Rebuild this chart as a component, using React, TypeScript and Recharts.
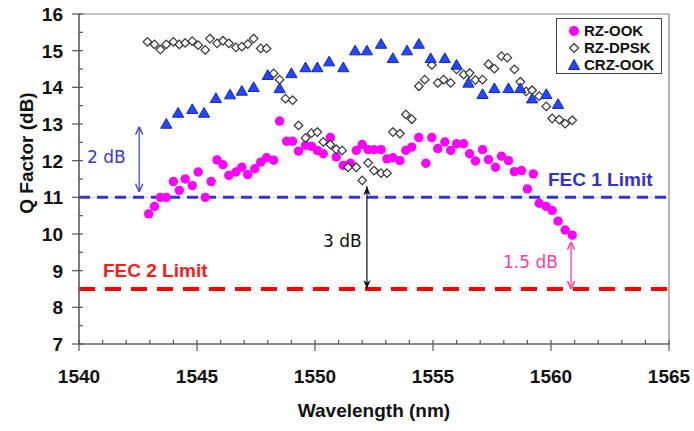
import { ScatterChart, Scatter, XAxis, YAxis, ReferenceLine, ReferenceArea, Legend } from 'recharts'

// [wavelength nm, Q factor dB]
const rzOok: [number, number][] = [
  [1542.95, 10.55], [1543.2, 10.75], [1543.45, 11.0], [1543.7, 11.0], [1544.0, 11.43],
  [1544.25, 11.19], [1544.5, 11.5], [1544.8, 11.32], [1545.05, 11.69], [1545.35, 11.0],
  [1545.6, 11.43], [1545.85, 12.02], [1546.1, 11.89], [1546.35, 11.6], [1546.65, 11.69],
  [1546.9, 11.82], [1547.15, 11.62], [1547.45, 11.78], [1547.7, 11.96], [1547.95, 12.08],
  [1548.25, 12.01], [1548.5, 13.08], [1548.8, 12.53], [1549.05, 12.53], [1549.3, 12.26],
  [1549.6, 12.42], [1549.85, 12.39], [1550.1, 12.28], [1550.35, 12.19], [1550.65, 12.63],
  [1550.9, 12.1], [1551.2, 11.87], [1551.5, 11.93], [1551.75, 12.28], [1552.0, 12.44],
  [1552.25, 12.3], [1552.5, 12.3], [1552.8, 12.3], [1553.05, 12.05], [1553.3, 12.08],
  [1553.6, 12.0], [1553.85, 12.28], [1554.1, 12.37], [1554.4, 12.63], [1554.7, 11.93],
  [1554.95, 12.63], [1555.2, 12.33], [1555.5, 12.51], [1555.75, 12.28], [1556.0, 12.46],
  [1556.3, 12.46], [1556.55, 12.19], [1556.8, 11.99], [1557.1, 12.3], [1557.35, 12.03],
  [1557.65, 11.82], [1557.9, 12.12], [1558.2, 12.0], [1558.45, 11.7], [1558.75, 11.73],
  [1559.0, 11.23], [1559.25, 11.64], [1559.5, 10.84], [1559.8, 10.75], [1560.05, 10.64],
  [1560.3, 10.35], [1560.6, 10.11], [1560.9, 9.97],
]

const rzDpsk: [number, number][] = [
  [1542.9, 15.24], [1543.2, 15.17], [1543.45, 15.03], [1543.7, 15.17], [1544.0, 15.24],
  [1544.25, 15.17], [1544.5, 15.21], [1544.8, 15.26], [1545.05, 15.15], [1545.35, 15.02],
  [1545.55, 15.33], [1545.85, 15.2], [1546.1, 15.27], [1546.35, 15.2], [1546.65, 15.09],
  [1546.9, 15.11], [1547.15, 15.18], [1547.4, 15.33], [1547.7, 15.06], [1547.95, 15.06],
  [1548.25, 14.38], [1548.5, 14.21], [1548.75, 13.69], [1549.05, 13.65], [1549.3, 12.96],
  [1549.6, 12.62], [1549.85, 12.75], [1550.1, 12.78], [1550.35, 12.51], [1550.65, 12.44],
  [1550.9, 12.31], [1551.15, 12.28], [1551.4, 11.82], [1551.75, 11.82], [1552.0, 11.46],
  [1552.25, 11.94], [1552.5, 11.73], [1552.8, 11.66], [1553.05, 11.66], [1553.3, 12.78],
  [1553.6, 12.74], [1553.85, 13.26], [1554.1, 13.13], [1554.4, 14.03], [1554.65, 14.21],
  [1554.95, 14.61], [1555.2, 14.12], [1555.45, 14.21], [1555.75, 14.12], [1556.0, 14.49],
  [1556.3, 14.35], [1556.55, 14.39], [1556.8, 14.2], [1557.1, 14.21], [1557.35, 14.63],
  [1557.6, 14.51], [1557.9, 14.85], [1558.15, 14.81], [1558.45, 14.49], [1558.7, 14.15],
  [1558.95, 13.89], [1559.2, 13.92], [1559.5, 13.76], [1559.8, 13.48], [1560.05, 13.15],
  [1560.35, 13.12], [1560.6, 13.01], [1560.9, 13.1],
]

const crzOok: [number, number][] = [
  [1543.7, 13.0], [1544.2, 13.3], [1544.8, 13.4], [1545.3, 13.3], [1545.8, 13.7],
  [1546.4, 13.8], [1546.9, 13.9], [1547.4, 14.0], [1548.0, 14.33], [1548.5, 13.97],
  [1549.0, 14.38], [1549.6, 14.54], [1550.1, 14.54], [1550.6, 14.7], [1551.2, 14.54],
  [1551.7, 15.0], [1552.2, 15.0], [1552.8, 15.18], [1553.3, 14.79], [1553.9, 15.0],
  [1554.4, 15.18], [1554.9, 14.79], [1555.5, 14.79], [1556.0, 14.61], [1556.5, 14.12],
  [1557.1, 13.81], [1557.6, 13.97], [1558.2, 13.97], [1558.7, 13.97], [1559.2, 13.69],
  [1559.8, 13.81], [1560.3, 13.54],
]

const xMajor = [1540, 1545, 1550, 1555, 1560, 1565]
const xTicks = Array.from({ length: 26 }, (_, i) => 1540 + i)
const yTicks = Array.from({ length: 19 }, (_, i) => 7 + i * 0.5)

const fec1 = 11
const fec2 = 8.5

const toPoints = (arr: [number, number][]) => arr.map(([x, y]) => ({ x, y }))

const FONT = '"Liberation Sans", Arial, sans-serif'
const NOTE_FONT = '"DejaVu Sans", Verdana, sans-serif'

const XTick = ({ x, y, payload }: any) => {
  const major = xMajor.includes(payload.value)
  return (
    <g>
      <line x1={x} x2={x} y1={y - 4} y2={major ? y + 7 : y} stroke="#555" strokeWidth={1.2} />
      {major && (
        <text x={x} y={y + 39} textAnchor="middle" fontFamily={FONT} fontWeight="bold" fontSize={19} fill="#111">
          {payload.value}
        </text>
      )}
    </g>
  )
}

const YTick = ({ x, y, payload }: any) => {
  const major = Number.isInteger(payload.value)
  return (
    <g>
      <line x1={major ? x - 7 : x} x2={x + 4} y1={y} y2={y} stroke="#555" strokeWidth={1.2} />
      {major && (
        <text x={x - 16} y={y + 7} textAnchor="end" fontFamily={FONT} fontWeight="bold" fontSize={19} fill="#111">
          {payload.value}
        </text>
      )}
    </g>
  )
}

const circleShape = (p: any) => <circle cx={p.cx} cy={p.cy} r={4.7} fill="#ff00ff" />
const diamondShape = (p: any) => (
  <polygon
    points={`${p.cx},${p.cy - 4.3} ${p.cx + 4.3},${p.cy} ${p.cx},${p.cy + 4.3} ${p.cx - 4.3},${p.cy}`}
    fill="#fff"
    stroke="#333"
    strokeWidth={1.2}
  />
)
const triangleShape = (p: any) => (
  <polygon
    points={`${p.cx},${p.cy - 5.5} ${p.cx + 5.6},${p.cy + 4.2} ${p.cx - 5.6},${p.cy + 4.2}`}
    fill="#2446ff"
    stroke="#1028b8"
    strokeWidth={1}
  />
)

const legendItems = [
  { name: 'RZ-OOK', icon: <circle cx={6} cy={6} r={5} fill="#ff00ff" /> },
  { name: 'RZ-DPSK', icon: <polygon points="6,1.5 10.5,6 6,10.5 1.5,6" fill="#fff" stroke="#333" strokeWidth={1.2} /> },
  { name: 'CRZ-OOK', icon: <polygon points="6,0.5 11.5,10.5 0.5,10.5" fill="#2446ff" stroke="#1028b8" /> },
]

const LegendBox = () => (
  <div
    style={{
      border: '1.5px solid #444',
      background: '#fff',
      padding: '3px 0 0 11px',
      boxSizing: 'border-box',
      width: 106,
      height: 56,
      fontFamily: FONT,
      fontWeight: 'bold',
      fontSize: 15,
      color: '#111',
      lineHeight: '17px',
    }}
  >
    {legendItems.map((it) => (
      <div key={it.name} style={{ display: 'flex', alignItems: 'center', gap: 4 }}>
        <svg width={12} height={12}>{it.icon}</svg>
        <span>{it.name}</span>
      </div>
    ))}
  </div>
)

export default function App() {
  return (
    <div style={{ position: 'absolute', left: 0, top: 0, background: '#fff' }}>
      <ScatterChart width={694} height={431} margin={{ top: 14, right: 25, bottom: 0, left: 0 }}>
        <defs>
          <marker id="ahBlue" viewBox="0 0 10 10" refX="10" refY="5" markerWidth="9" markerHeight="9" markerUnits="userSpaceOnUse" orient="auto-start-reverse">
            <path d="M1,1 L10,5 L1,9" fill="none" stroke="#4848cc" strokeWidth="1.6" />
          </marker>
          <marker id="ahBlack" viewBox="0 0 10 10" refX="10" refY="5" markerWidth="9" markerHeight="9" markerUnits="userSpaceOnUse" orient="auto-start-reverse">
            <path d="M0,1 L10,5 L0,9 L3,5 Z" fill="#111" />
          </marker>
          <marker id="ahPink" viewBox="0 0 10 10" refX="10" refY="5" markerWidth="9" markerHeight="9" markerUnits="userSpaceOnUse" orient="auto-start-reverse">
            <path d="M1,1 L10,5 L1,9" fill="none" stroke="#ff3d9e" strokeWidth="1.6" />
          </marker>
        </defs>
        <XAxis
          type="number"
          dataKey="x"
          domain={[1540, 1565]}
          ticks={xTicks}
          interval={0}
          tick={<XTick />}
          tickLine={false}
          tickSize={0}
          tickMargin={0}
          height={87}
          axisLine={{ stroke: '#555', strokeWidth: 1.2 }}
          label={{ value: 'Wavelength (nm)', position: 'insideBottom', offset: 14, fontFamily: FONT, fontWeight: 'bold', fontSize: 19, fill: '#111' }}
        />
        <YAxis
          type="number"
          dataKey="y"
          domain={[7, 16]}
          ticks={yTicks}
          interval={0}
          tick={<YTick />}
          tickLine={false}
          tickSize={0}
          tickMargin={0}
          width={79}
          axisLine={{ stroke: '#555', strokeWidth: 1.2 }}
        />
        <ReferenceArea x1={1540} x2={1565} y1={7} y2={16} fill="none" stroke="#888" strokeWidth={1.2} />
        <ReferenceLine y={fec1} stroke="#cfcfcf" strokeWidth={1} />
        <ReferenceLine y={fec1} stroke="#3535d6" strokeWidth={3} strokeDasharray="11 7" />
        <ReferenceLine y={fec2} stroke="#ff0000" strokeWidth={4} strokeDasharray="16 10" />
        <ReferenceLine
          segment={[{ x: 1542.55, y: 11.15 }, { x: 1542.55, y: 12.93 }]}
          stroke="#4848cc"
          strokeWidth={1.3}
          markerStart="url(#ahBlue)"
          markerEnd="url(#ahBlue)"
        />
        <ReferenceLine
          segment={[{ x: 1552.2, y: 8.5 }, { x: 1552.2, y: 11.3 }]}
          stroke="#111"
          strokeWidth={1.2}
          markerStart="url(#ahBlack)"
          markerEnd="url(#ahBlack)"
        />
        <ReferenceLine
          segment={[{ x: 1560.85, y: 8.5 }, { x: 1560.85, y: 9.79 }]}
          stroke="#ff3d9e"
          strokeWidth={1.3}
          markerStart="url(#ahPink)"
          markerEnd="url(#ahPink)"
        />
        <Scatter name="RZ-OOK" data={toPoints(rzOok)} shape={circleShape} isAnimationActive={false} />
        <Scatter name="RZ-DPSK" data={toPoints(rzDpsk)} shape={diamondShape} isAnimationActive={false} />
        <Scatter name="CRZ-OOK" data={toPoints(crzOok)} shape={triangleShape} isAnimationActive={false} />
        <Legend
          layout="horizontal"
          verticalAlign="middle"
          align="center"
          content={<LegendBox />}
          wrapperStyle={{ left: 556, top: 18, width: 106, height: 56 }}
        />
        <text x={26} y={153} transform="rotate(-90 26 153)" textAnchor="middle" dominantBaseline="central" fontFamily={FONT} fontWeight="bold" fontSize={19} fill="#111">
          Q Factor (dB)
        </text>
        <text x={87} y={163} fontFamily={NOTE_FONT} fontSize={17} fill="#3a3ad0">2 dB</text>
        <text x={323} y={247} fontFamily={NOTE_FONT} fontSize={17} fill="#111">3 dB</text>
        <text x={503} y={268} fontFamily={NOTE_FONT} fontSize={17} fill="#ff3d9e">1.5 dB</text>
        <text x={548} y={186} fontFamily={FONT} fontWeight="bold" fontSize={19} fill="#3333cc">FEC 1 Limit</text>
        <text x={103} y={277} fontFamily={FONT} fontWeight="bold" fontSize={19} fill="#ff1a1a">FEC 2 Limit</text>
      </ScatterChart>
    </div>
  )
}
